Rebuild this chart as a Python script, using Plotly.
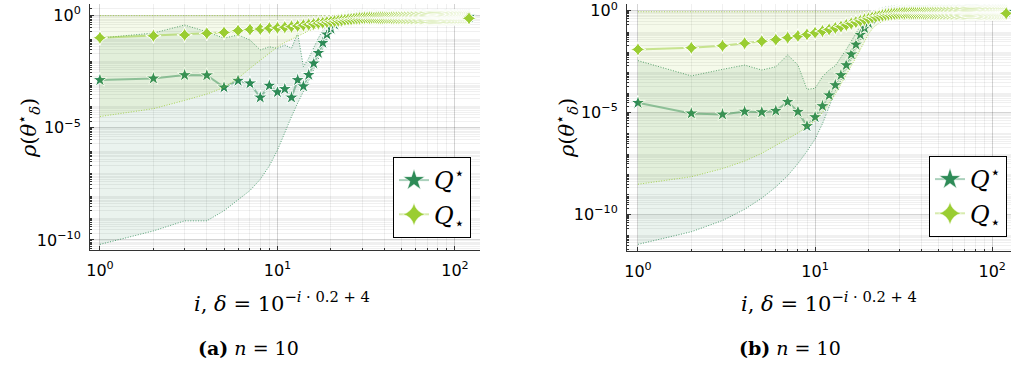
import plotly.graph_objects as go

# ---------------- data (log10 of rho) ----------------
I = list(range(1, 121))

# panel (a)
QS_MED_A = [
    -2.87, -2.80, -2.65, -2.66, -3.20, -2.90, -3.02, -3.65, -3.12, -3.41,
    -3.27, -3.65, -2.87, -3.15, -2.64, -2.13, -1.66, -1.21, -0.84, -0.58,
    -0.40, -0.28, -0.20, -0.15, -0.11, -0.09, -0.07, -0.06, -0.05, -0.05,
    -0.05, -0.05, -0.05, -0.05, -0.05,
    -0.05, -0.05, -0.05, -0.05, -0.05, -0.05, -0.05, -0.05, -0.05, -0.05,
    -0.05, -0.05, -0.05, -0.05, -0.05, -0.05, -0.05, -0.05, -0.05, -0.05,
    -0.05, -0.05, -0.05, -0.05, -0.05, -0.05, -0.05, -0.05, -0.05, -0.05,
    -0.05, -0.05, -0.05, -0.05, -0.05, -0.05, -0.05, -0.05, -0.05, -0.05,
    -0.05, -0.05, -0.05, -0.05, -0.05, -0.05, -0.05, -0.05, -0.05, -0.05,
    -0.05, -0.05, -0.05, -0.05, -0.05, -0.05, -0.05, -0.05, -0.05, -0.05,
    -0.05, -0.05, -0.05, -0.05, -0.05, -0.05, -0.05, -0.05, -0.05, -0.05,
    -0.05, -0.05, -0.05, -0.05, -0.05, -0.05, -0.05, -0.05, -0.05, -0.05,
    -0.05, -0.05, -0.05, -0.05, -0.05,
]
QS_LO_A = [
    -10.2, -9.6, -9.15, -9.15, -8.7, -8.2, -7.8, -7.3, -6.7, -6.0,
    -5.2, -4.5, -3.9, -3.4, -2.9, -2.4, -1.9, -1.45, -1.05, -0.75,
    -0.50, -0.35, -0.25, -0.18, -0.14, -0.12, -0.12, -0.12, -0.12, -0.12,
    -0.12, -0.12, -0.12, -0.12, -0.12,
    -0.12, -0.12, -0.12, -0.12, -0.12, -0.12, -0.12, -0.12, -0.12, -0.12,
    -0.12, -0.12, -0.12, -0.12, -0.12, -0.12, -0.12, -0.12, -0.12, -0.12,
    -0.12, -0.12, -0.12, -0.12, -0.12, -0.12, -0.12, -0.12, -0.12, -0.12,
    -0.12, -0.12, -0.12, -0.12, -0.12, -0.12, -0.12, -0.12, -0.12, -0.12,
    -0.12, -0.12, -0.12, -0.12, -0.12, -0.12, -0.12, -0.12, -0.12, -0.12,
    -0.12, -0.12, -0.12, -0.12, -0.12, -0.12, -0.12, -0.12, -0.12, -0.12,
    -0.12, -0.12, -0.12, -0.12, -0.12, -0.12, -0.12, -0.12, -0.12, -0.12,
    -0.12, -0.12, -0.12, -0.12, -0.12, -0.12, -0.12, -0.12, -0.12, -0.12,
    -0.12, -0.12, -0.12, -0.12, -0.12,
]
QS_HI_A = [
    -1.00, -0.78, -0.42, -0.72, -1.01, -0.86, -1.09, -1.53, -1.39, -1.46,
    -1.31, -1.46, -0.79, -2.28, -1.90, -1.40, -1.00, -0.65, -0.40, -0.25,
    -0.15, -0.10, -0.07, -0.05, -0.04, -0.03, -0.03, -0.03, -0.03, -0.03,
    -0.03, -0.03, -0.03, -0.03, -0.03,
    -0.03, -0.03, -0.03, -0.03, -0.03, -0.03, -0.03, -0.03, -0.03, -0.03,
    -0.03, -0.03, -0.03, -0.03, -0.03, -0.03, -0.03, -0.03, -0.03, -0.03,
    -0.03, -0.03, -0.03, -0.03, -0.03, -0.03, -0.03, -0.03, -0.03, -0.03,
    -0.03, -0.03, -0.03, -0.03, -0.03, -0.03, -0.03, -0.03, -0.03, -0.03,
    -0.03, -0.03, -0.03, -0.03, -0.03, -0.03, -0.03, -0.03, -0.03, -0.03,
    -0.03, -0.03, -0.03, -0.03, -0.03, -0.03, -0.03, -0.03, -0.03, -0.03,
    -0.03, -0.03, -0.03, -0.03, -0.03, -0.03, -0.03, -0.03, -0.03, -0.03,
    -0.03, -0.03, -0.03, -0.03, -0.03, -0.03, -0.03, -0.03, -0.03, -0.03,
    -0.03, -0.03, -0.03, -0.03, -0.03,
]
QL_MED_A = [
    -0.99, -0.90, -0.86, -0.79, -0.75, -0.67, -0.62, -0.60, -0.56, -0.54,
    -0.52, -0.49, -0.46, -0.43, -0.40, -0.37, -0.34, -0.32, -0.29, -0.27,
    -0.25, -0.23, -0.21, -0.19, -0.17, -0.16, -0.14, -0.13, -0.12, -0.11,
    -0.10, -0.10, -0.10, -0.10, -0.10,
    -0.10, -0.10, -0.10, -0.10, -0.10, -0.10, -0.10, -0.10, -0.10, -0.10,
    -0.10, -0.10, -0.10, -0.10, -0.10, -0.10, -0.10, -0.10, -0.10, -0.10,
    -0.10, -0.10, -0.10, -0.10, -0.10, -0.10, -0.10, -0.10, -0.10, -0.10,
    -0.10, -0.10, -0.10, -0.10, -0.10, -0.10, -0.10, -0.10, -0.10, -0.10,
    -0.10, -0.10, -0.10, -0.10, -0.10, -0.10, -0.10, -0.10, -0.10, -0.10,
    -0.10, -0.10, -0.10, -0.10, -0.10, -0.10, -0.10, -0.10, -0.10, -0.10,
    -0.10, -0.10, -0.10, -0.10, -0.10, -0.10, -0.10, -0.10, -0.10, -0.10,
    -0.10, -0.10, -0.10, -0.10, -0.10, -0.10, -0.10, -0.10, -0.10, -0.10,
    -0.10, -0.10, -0.10, -0.10, -0.12,
]
QL_LO_A = [
    -4.50, -4.15, -3.78, -3.50, -3.20, -2.80, -2.35, -1.98, -1.65, -1.40,
    -1.20, -1.05, -0.90, -0.78, -0.68, -0.60, -0.52, -0.46, -0.40, -0.36,
    -0.33, -0.31, -0.30, -0.29, -0.28, -0.28, -0.28, -0.28, -0.28, -0.28,
    -0.28, -0.28, -0.28, -0.28, -0.28,
    -0.28, -0.28, -0.28, -0.28, -0.28, -0.28, -0.28, -0.28, -0.28, -0.28,
    -0.28, -0.28, -0.28, -0.28, -0.28, -0.28, -0.28, -0.28, -0.28, -0.28,
    -0.28, -0.28, -0.28, -0.28, -0.28, -0.28, -0.28, -0.28, -0.28, -0.28,
    -0.28, -0.28, -0.28, -0.28, -0.28, -0.28, -0.28, -0.28, -0.28, -0.28,
    -0.28, -0.28, -0.28, -0.28, -0.28, -0.28, -0.28, -0.28, -0.28, -0.28,
    -0.28, -0.28, -0.28, -0.28, -0.28, -0.28, -0.28, -0.28, -0.28, -0.28,
    -0.28, -0.28, -0.28, -0.28, -0.28, -0.28, -0.28, -0.28, -0.28, -0.28,
    -0.28, -0.28, -0.28, -0.28, -0.28, -0.28, -0.28, -0.28, -0.28, -0.28,
    -0.28, -0.28, -0.28, -0.28, -0.28,
]
QL_HI_A = [
    0.0, 0.0, 0.0, 0.0, 0.0, 0.0, 0.0, 0.0, 0.0, 0.0,
    0.0, 0.0, 0.0, 0.0, 0.0, 0.0, 0.0, 0.0, 0.0, 0.0,
    0.0, 0.0, 0.0, 0.0, 0.0, 0.0, 0.0, 0.0, 0.0, 0.0,
    0.0, 0.0, 0.0, 0.0, 0.0, 0.0, 0.0, 0.0, 0.0, 0.0,
    0.0, 0.0, 0.0, 0.0, 0.0, 0.0, 0.0, 0.0, 0.0, 0.0,
    0.0, 0.0, 0.0, 0.0, 0.0, 0.0, 0.0, 0.0, 0.0, 0.0,
    0.0, 0.0, 0.0, 0.0, 0.0, 0.0, 0.0, 0.0, 0.0, 0.0,
    0.0, 0.0, 0.0, 0.0, 0.0, 0.0, 0.0, 0.0, 0.0, 0.0,
    0.0, 0.0, 0.0, 0.0, 0.0, 0.0, 0.0, 0.0, 0.0, 0.0,
    0.0, 0.0, 0.0, 0.0, 0.0, 0.0, 0.0, 0.0, 0.0, 0.0,
    0.0, 0.0, 0.0, 0.0, 0.0, 0.0, 0.0, 0.0, 0.0, 0.0,
    0.0, 0.0, 0.0, 0.0, 0.0, 0.0, 0.0, 0.0, 0.0, 0.0,
]

# panel (b)
QS_MED_B = [
    -4.52, -5.04, -5.09, -4.95, -4.98, -4.91, -4.47, -4.96, -5.66, -5.22,
    -4.68, -4.15, -3.65, -3.16, -2.67, -2.14, -1.66, -1.18, -0.85, -0.60,
    -0.42, -0.30, -0.20, -0.14, -0.10, -0.08, -0.06, -0.05, -0.05, -0.05,
    -0.05, -0.05, -0.05, -0.05, -0.05,
    -0.05, -0.05, -0.05, -0.05, -0.05, -0.05, -0.05, -0.05, -0.05, -0.05,
    -0.05, -0.05, -0.05, -0.05, -0.05, -0.05, -0.05, -0.05, -0.05, -0.05,
    -0.05, -0.05, -0.05, -0.05, -0.05, -0.05, -0.05, -0.05, -0.05, -0.05,
    -0.05, -0.05, -0.05, -0.05, -0.05, -0.05, -0.05, -0.05, -0.05, -0.05,
    -0.05, -0.05, -0.05, -0.05, -0.05, -0.05, -0.05, -0.05, -0.05, -0.05,
    -0.05, -0.05, -0.05, -0.05, -0.05, -0.05, -0.05, -0.05, -0.05, -0.05,
    -0.05, -0.05, -0.05, -0.05, -0.05, -0.05, -0.05, -0.05, -0.05, -0.05,
    -0.05, -0.05, -0.05, -0.05, -0.05, -0.05, -0.05, -0.05, -0.05, -0.05,
    -0.05, -0.05, -0.05, -0.05, -0.05,
]
QS_LO_B = [
    -11.47, -10.85, -10.30, -9.75, -9.20, -8.65, -8.10, -7.50, -6.90, -6.30,
    -5.55, -4.75, -3.95, -3.40, -2.90, -2.40, -1.90, -1.45, -1.05, -0.75,
    -0.50, -0.35, -0.25, -0.18, -0.14, -0.12, -0.12, -0.12, -0.12, -0.12,
    -0.12, -0.12, -0.12, -0.12, -0.12,
    -0.12, -0.12, -0.12, -0.12, -0.12, -0.12, -0.12, -0.12, -0.12, -0.12,
    -0.12, -0.12, -0.12, -0.12, -0.12, -0.12, -0.12, -0.12, -0.12, -0.12,
    -0.12, -0.12, -0.12, -0.12, -0.12, -0.12, -0.12, -0.12, -0.12, -0.12,
    -0.12, -0.12, -0.12, -0.12, -0.12, -0.12, -0.12, -0.12, -0.12, -0.12,
    -0.12, -0.12, -0.12, -0.12, -0.12, -0.12, -0.12, -0.12, -0.12, -0.12,
    -0.12, -0.12, -0.12, -0.12, -0.12, -0.12, -0.12, -0.12, -0.12, -0.12,
    -0.12, -0.12, -0.12, -0.12, -0.12, -0.12, -0.12, -0.12, -0.12, -0.12,
    -0.12, -0.12, -0.12, -0.12, -0.12, -0.12, -0.12, -0.12, -0.12, -0.12,
    -0.12, -0.12, -0.12, -0.12, -0.12,
]
QS_HI_B = [
    -2.45, -3.20, -2.88, -2.67, -2.91, -2.75, -2.17, -2.67, -3.86, -3.81,
    -3.24, -2.91, -2.70, -2.30, -1.90, -1.50, -1.10, -0.75, -0.50, -0.30,
    -0.18, -0.10, -0.06, -0.04, -0.03, -0.03, -0.03, -0.03, -0.03, -0.03,
    -0.03, -0.03, -0.03, -0.03, -0.03,
    -0.03, -0.03, -0.03, -0.03, -0.03, -0.03, -0.03, -0.03, -0.03, -0.03,
    -0.03, -0.03, -0.03, -0.03, -0.03, -0.03, -0.03, -0.03, -0.03, -0.03,
    -0.03, -0.03, -0.03, -0.03, -0.03, -0.03, -0.03, -0.03, -0.03, -0.03,
    -0.03, -0.03, -0.03, -0.03, -0.03, -0.03, -0.03, -0.03, -0.03, -0.03,
    -0.03, -0.03, -0.03, -0.03, -0.03, -0.03, -0.03, -0.03, -0.03, -0.03,
    -0.03, -0.03, -0.03, -0.03, -0.03, -0.03, -0.03, -0.03, -0.03, -0.03,
    -0.03, -0.03, -0.03, -0.03, -0.03, -0.03, -0.03, -0.03, -0.03, -0.03,
    -0.03, -0.03, -0.03, -0.03, -0.03, -0.03, -0.03, -0.03, -0.03, -0.03,
    -0.03, -0.03, -0.03, -0.03, -0.03,
]
QL_MED_B = [
    -1.90, -1.82, -1.72, -1.60, -1.50, -1.42, -1.32, -1.24, -1.16, -1.08,
    -1.00, -0.92, -0.85, -0.78, -0.70, -0.63, -0.56, -0.50, -0.44, -0.39,
    -0.34, -0.30, -0.26, -0.23, -0.20, -0.18, -0.16, -0.15, -0.14, -0.13,
    -0.12, -0.12, -0.12, -0.12, -0.12,
    -0.12, -0.12, -0.12, -0.12, -0.12, -0.12, -0.12, -0.12, -0.12, -0.12,
    -0.12, -0.12, -0.12, -0.12, -0.12, -0.12, -0.12, -0.12, -0.12, -0.12,
    -0.12, -0.12, -0.12, -0.12, -0.12, -0.12, -0.12, -0.12, -0.12, -0.12,
    -0.12, -0.12, -0.12, -0.12, -0.12, -0.12, -0.12, -0.12, -0.12, -0.12,
    -0.12, -0.12, -0.12, -0.12, -0.12, -0.12, -0.12, -0.12, -0.12, -0.12,
    -0.12, -0.12, -0.12, -0.12, -0.12, -0.12, -0.12, -0.12, -0.12, -0.12,
    -0.12, -0.12, -0.12, -0.12, -0.12, -0.12, -0.12, -0.12, -0.12, -0.12,
    -0.12, -0.12, -0.12, -0.12, -0.12, -0.12, -0.12, -0.12, -0.12, -0.12,
    -0.12, -0.12, -0.12, -0.12, -0.13,
]
QL_LO_B = [
    -8.52, -8.15, -7.75, -7.38, -7.00, -6.60, -6.30, -6.00, -5.70, -5.40,
    -5.00, -4.55, -4.10, -3.60, -3.15, -2.75, -2.30, -1.90, -1.50, -1.15,
    -0.90, -0.72, -0.60, -0.52, -0.47, -0.44, -0.42, -0.42, -0.42, -0.42,
    -0.42, -0.42, -0.42, -0.42, -0.42,
    -0.42, -0.42, -0.42, -0.42, -0.42, -0.42, -0.42, -0.42, -0.42, -0.42,
    -0.42, -0.42, -0.42, -0.42, -0.42, -0.42, -0.42, -0.42, -0.42, -0.42,
    -0.42, -0.42, -0.42, -0.42, -0.42, -0.42, -0.42, -0.42, -0.42, -0.42,
    -0.42, -0.42, -0.42, -0.42, -0.42, -0.42, -0.42, -0.42, -0.42, -0.42,
    -0.42, -0.42, -0.42, -0.42, -0.42, -0.42, -0.42, -0.42, -0.42, -0.42,
    -0.42, -0.42, -0.42, -0.42, -0.42, -0.42, -0.42, -0.42, -0.42, -0.42,
    -0.42, -0.42, -0.42, -0.42, -0.42, -0.42, -0.42, -0.42, -0.42, -0.42,
    -0.42, -0.42, -0.42, -0.42, -0.42, -0.42, -0.42, -0.42, -0.42, -0.42,
    -0.42, -0.42, -0.42, -0.42, -0.42,
]
QL_HI_B = [
    -0.05, -0.05, -0.05, -0.05, -0.05, -0.05, -0.05, -0.05, -0.05, -0.05,
    -0.05, -0.05, -0.05, -0.05, -0.05, -0.05, -0.05, -0.05, -0.05, -0.05,
    -0.05, -0.05, -0.05, -0.05, -0.05, -0.05, -0.05, -0.05, -0.05, -0.05,
    -0.05, -0.05, -0.05, -0.05, -0.05, -0.05, -0.05, -0.05, -0.05, -0.05,
    -0.05, -0.05, -0.05, -0.05, -0.05, -0.05, -0.05, -0.05, -0.05, -0.05,
    -0.05, -0.05, -0.05, -0.05, -0.05, -0.05, -0.05, -0.05, -0.05, -0.05,
    -0.05, -0.05, -0.05, -0.05, -0.05, -0.05, -0.05, -0.05, -0.05, -0.05,
    -0.05, -0.05, -0.05, -0.05, -0.05, -0.05, -0.05, -0.05, -0.05, -0.05,
    -0.05, -0.05, -0.05, -0.05, -0.05, -0.05, -0.05, -0.05, -0.05, -0.05,
    -0.05, -0.05, -0.05, -0.05, -0.05, -0.05, -0.05, -0.05, -0.05, -0.05,
    -0.05, -0.05, -0.05, -0.05, -0.05, -0.05, -0.05, -0.05, -0.05, -0.05,
    -0.05, -0.05, -0.05, -0.05, -0.05, -0.05, -0.05, -0.05, -0.05, -0.05,
]

for arr in (QS_MED_A, QS_LO_A, QS_HI_A, QL_MED_A, QL_LO_A, QL_HI_A,
            QS_MED_B, QS_LO_B, QS_HI_B, QL_MED_B, QL_LO_B, QL_HI_B):
    assert len(arr) == len(I), len(arr)

X_TICKS = [1, 10, 100]
X_TICKTEXT = ["10<sup>0</sup>", "10<sup>1</sup>", "10<sup>2</sup>"]
Y_TICKS = [1, 1e-5, 1e-10]
Y_TICKTEXT = ["10<sup>0</sup>", "10<sup>−5</sup>", "10<sup>−10</sup>"]
NAME_UP = "<i>Q</i><sup>⋆</sup>"
NAME_DN = "<i>Q</i><sub>⋆</sub>"

# ---------------- styling ----------------
W, H = 1012, 367
DARK = (46, 139, 87)
LIGHT = (154, 205, 50)


def rgba(c, a):
    return f"rgba({c[0]},{c[1]},{c[2]},{a})"


def px_x(p):
    return p / W


def px_y(p):
    return 1 - p / H


minor_x = [m * 10 ** k for k in range(0, 3) for m in range(2, 10)]
minor_y = [m * 10 ** k for k in range(-12, 1) for m in range(2, 10)]

fig = go.Figure()

panels = [
    dict(xa="x", ya="y", lg="legend",
         series=[(QS_LO_A, QS_MED_A, QS_HI_A, DARK, "star", NAME_UP),
                 (QL_LO_A, QL_MED_A, QL_HI_A, LIGHT, "star-diamond", NAME_DN)]),
    dict(xa="x2", ya="y2", lg="legend2",
         series=[(QS_LO_B, QS_MED_B, QS_HI_B, DARK, "star", NAME_UP),
                 (QL_LO_B, QL_MED_B, QL_HI_B, LIGHT, "star-diamond", NAME_DN)]),
]

DOT = "1px,1.6px"
for p in panels:
    for lo, med, hi, col, sym, name in p["series"]:
        ylo = [10 ** v for v in lo]
        ymed = [10 ** v for v in med]
        yhi = [10 ** v for v in hi]
        fig.add_trace(go.Scatter(
            x=I, y=ylo, mode="lines", xaxis=p["xa"], yaxis=p["ya"],
            line=dict(color=rgba(col, 0.8), width=1, dash=DOT),
            showlegend=False, hoverinfo="skip"))
        fig.add_trace(go.Scatter(
            x=I, y=yhi, mode="lines", xaxis=p["xa"], yaxis=p["ya"],
            line=dict(color=rgba(col, 0.8), width=1, dash=DOT),
            fill="tonexty", fillcolor=rgba(col, 0.1),
            showlegend=False, hoverinfo="skip"))
        fig.add_trace(go.Scatter(
            x=I, y=ymed, mode="lines+markers", xaxis=p["xa"], yaxis=p["ya"],
            line=dict(color=rgba(col, 0.5), width=2),
            marker=dict(symbol=sym, size=11, color=rgba(col, 1),
                        line=dict(color="white", width=1)),
            showlegend=False))
        # legend entry
        fig.add_trace(go.Scatter(
            x=[None], y=[None], mode="lines+markers", name=name,
            xaxis=p["xa"], yaxis=p["ya"], legend=p["lg"],
            line=dict(color=rgba(col, 0.4), width=2),
            marker=dict(symbol=sym, size=18, color=rgba(col, 1),
                        line=dict(color="white", width=0.5)),
            showlegend=True))

GRID = "rgba(0,0,0,0.17)"
MGRID = "rgba(0,0,0,0.06)"
TICKFONT = dict(family="DejaVu Sans", size=16, color="black")


def xaxis(domain, rng, anchor):
    return dict(type="log", domain=domain, range=rng, anchor=anchor,
                automargin=False, ticklabeloverflow="allow",
                tickmode="array", tickvals=X_TICKS, ticktext=X_TICKTEXT,
                ticks="inside", ticklen=4, tickcolor="#333",
                showline=True, linecolor="#333", linewidth=1,
                showgrid=True, gridcolor=GRID, gridwidth=1, zeroline=False,
                tickfont=TICKFONT, ticklabelstandoff=6,
                minor=dict(tickmode="array", tickvals=minor_x, ticks="inside",
                           ticklen=2, tickcolor="#333", showgrid=True,
                           gridcolor=MGRID, gridwidth=1))


def yaxis(domain, rng, anchor):
    return dict(type="log", domain=domain, range=rng, anchor=anchor,
                automargin=False, ticklabeloverflow="allow",
                tickmode="array", tickvals=Y_TICKS, ticktext=Y_TICKTEXT,
                ticks="inside", ticklen=4, tickcolor="#333",
                showline=True, linecolor="#333", linewidth=1,
                showgrid=True, gridcolor=GRID, gridwidth=1, zeroline=False,
                tickfont=TICKFONT, ticklabelstandoff=5,
                minor=dict(tickmode="array", tickvals=minor_y, ticks="inside",
                           ticklen=2, tickcolor="#333", showgrid=True,
                           gridcolor=MGRID, gridwidth=1))


legend_common = dict(xanchor="left", yanchor="top", bgcolor="white",
                     bordercolor="black", borderwidth=1,
                     font=dict(family="DejaVu Serif", size=24, color="black"),
                     itemsizing="trace", tracegroupgap=0, traceorder="normal")

fig.update_layout(
    width=W, height=H, margin=dict(l=0, r=0, t=0, b=0),
    paper_bgcolor="white", plot_bgcolor="white",
    xaxis=xaxis([px_x(90), px_x(480)], [-0.056, 2.141], "y"),
    yaxis=yaxis([px_y(250), px_y(4)], [-10.45, 0.517], "x"),
    xaxis2=xaxis([px_x(627), px_x(1011)], [-0.062, 2.106], "y2"),
    yaxis2=yaxis([px_y(250.7), px_y(4)], [-11.78, 0.329], "x2"),
    legend=dict(x=px_x(393), y=px_y(157), **legend_common),
    legend2=dict(x=px_x(929), y=px_y(156), **legend_common),
)

SERIF = "DejaVu Serif"
ann = []
for cx in (28, 566):
    ann.append(dict(x=px_x(cx), y=px_y(128), xref="paper", yref="paper",
                    xanchor="center", yanchor="middle",
                    text="<i>ρ</i>(<i>θ</i><sup>⋆</sup><sub><i>δ</i></sub>)",
                    textangle=-90, showarrow=False,
                    font=dict(family=SERIF, size=21, color="black")))
for cx in (282, 829):
    ann.append(dict(x=px_x(cx), y=px_y(302), xref="paper", yref="paper",
                    xanchor="center", yanchor="middle",
                    text="<i>i</i>, <i>δ</i> = 10<sup>−<i>i</i> · 0.2 + 4</sup>",
                    showarrow=False,
                    font=dict(family=SERIF, size=21, color="black")))
for cx, cap in ((248, "<b>(a)</b> <i>n</i> = 10"), (790, "<b>(b)</b> <i>n</i> = 10")):
    ann.append(dict(x=px_x(cx), y=px_y(348), xref="paper", yref="paper",
                    xanchor="center", yanchor="middle",
                    text=cap, showarrow=False,
                    font=dict(family=SERIF, size=19, color="black")))
fig.update_layout(annotations=ann)

fig.write_html("out.html",
               config={"displayModeBar": False},
               post_script="document.body.style.margin='0px';"
                           "document.body.style.overflow='hidden';")
